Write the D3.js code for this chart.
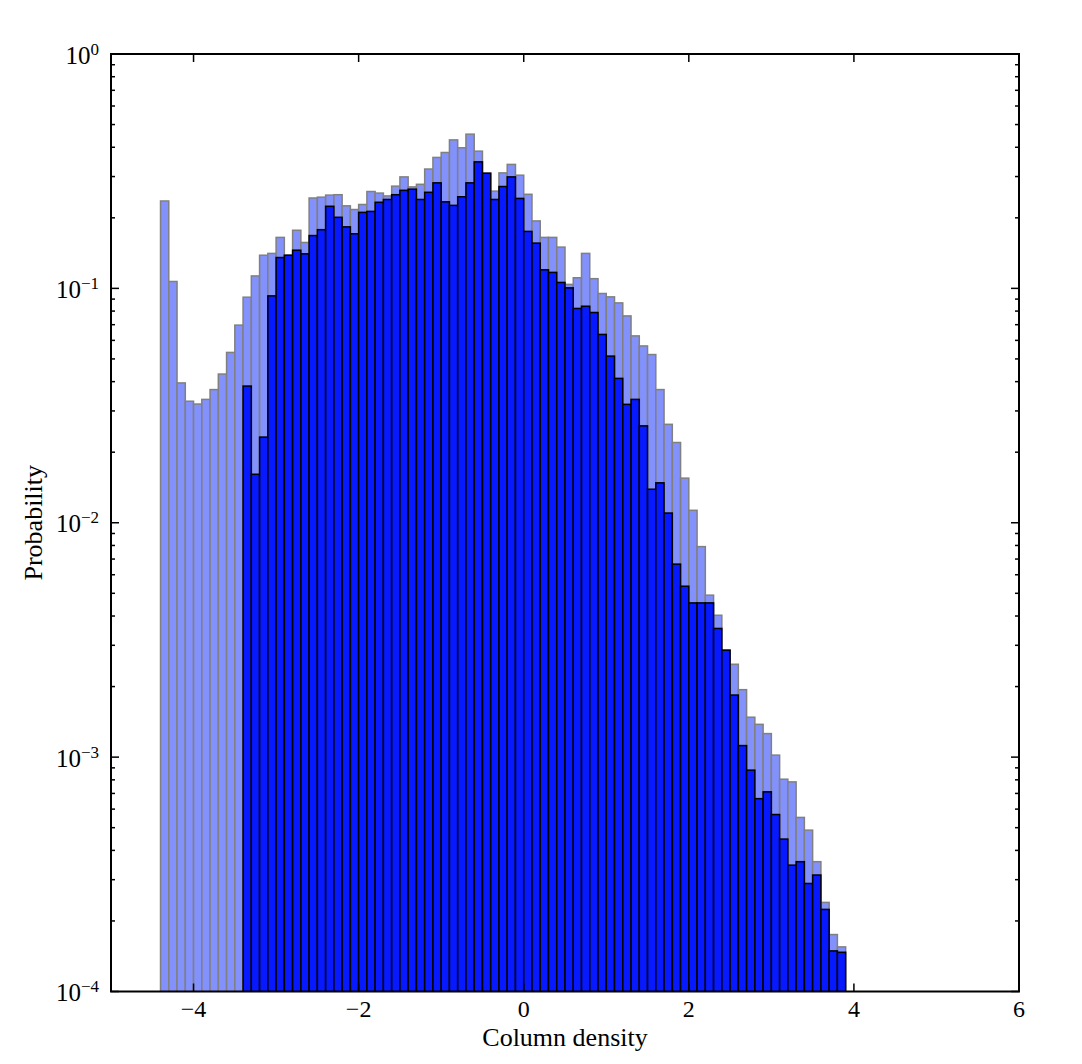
<!DOCTYPE html>
<html>
<head>
	<title>Column density histogram</title>
	<style type="text/css">
		body { margin: 0; background: #fff; }
		text { font-family: "Liberation Serif", "DejaVu Serif", serif; fill: #000; }
		.light { fill: #8291fb; stroke: #808080; stroke-width: 1.5; }
		.dark { fill: #0619ff; stroke: #000; stroke-width: 1.5; }
	</style>
</head>
<body>
	<div id="chart"></div>
	<script src="https://d3js.org/d3.v7.min.js"></script>
	<script type="text/javascript">
		// histogram bins (left edges), width 0.1
		var binLefts = [-4.4, -4.3, -4.2, -4.1, -4.0, -3.9, -3.8, -3.7, -3.6, -3.5,
			-3.4, -3.3, -3.2, -3.1, -3.0, -2.9, -2.8, -2.7, -2.6, -2.5,
			-2.4, -2.3, -2.2, -2.1, -2.0, -1.9, -1.8, -1.7, -1.6, -1.5,
			-1.4, -1.3, -1.2, -1.1, -1.0, -0.9, -0.8, -0.7, -0.6, -0.5,
			-0.4, -0.3, -0.2, -0.1, 0.0, 0.1, 0.2, 0.3, 0.4, 0.5,
			0.6, 0.7, 0.8, 0.9, 1.0, 1.1, 1.2, 1.3, 1.4, 1.5,
			1.6, 1.7, 1.8, 1.9, 2.0, 2.1, 2.2, 2.3, 2.4, 2.5,
			2.6, 2.7, 2.8, 2.9, 3.0, 3.1, 3.2, 3.3, 3.4, 3.5,
			3.6, 3.7, 3.8];
		var binWidth = 0.1;

		// pale series (whole field)
		var lightValues = [0.236, 0.107, 0.0395, 0.0330, 0.0321, 0.0336, 0.0370, 0.0431, 0.0533, 0.0697,
			0.0917, 0.113, 0.1385, 0.141, 0.165, 0.1385, 0.177, 0.157, 0.243, 0.245,
			0.250, 0.251, 0.225, 0.217, 0.228, 0.259, 0.255, 0.248, 0.273, 0.299,
			0.271, 0.278, 0.323, 0.362, 0.380, 0.430, 0.398, 0.455, 0.385, 0.310,
			0.260, 0.311, 0.338, 0.304, 0.252, 0.194, 0.165, 0.165, 0.150, 0.104,
			0.111, 0.141, 0.110, 0.0951, 0.0920, 0.0867, 0.0763, 0.0627, 0.0568, 0.0522,
			0.0370, 0.0263, 0.0220, 0.0155, 0.0113, 0.00791, 0.00491, 0.00403, 0.00286, 0.00249,
			0.00194, 0.00148, 0.00138, 0.00126, 0.00102, 0.000805, 0.000784, 0.000553, 0.000488, 0.000358,
			0.000240, 0.000175, 0.000155];

		// dark series (empty below -3.4)
		var darkValues = [null, null, null, null, null, null, null, null, null, null,
			0.0383, 0.0161, 0.0232, 0.0929, 0.1354, 0.1385, 0.1455, 0.1404, 0.168, 0.178,
			0.224, 0.201, 0.183, 0.171, 0.211, 0.213, 0.233, 0.2395, 0.251, 0.262,
			0.265, 0.2395, 0.257, 0.282, 0.234, 0.226, 0.246, 0.282, 0.3465, 0.310,
			0.2395, 0.272, 0.299, 0.242, 0.175, 0.156, 0.120, 0.117, 0.106, 0.1005,
			0.0821, 0.0839, 0.0789, 0.0636, 0.0514, 0.0413, 0.0320, 0.0336, 0.0259, 0.0139,
			0.0148, 0.0110, 0.00666, 0.00536, 0.00455, 0.00455, 0.00455, 0.00354, 0.00286, 0.00184,
			0.00112, 0.000880, 0.000665, 0.000711, 0.000569, 0.000447, 0.000346, 0.000358, 0.000289, 0.000314,
			0.000224, 0.000149, 0.000147];

		var xTicks = [-4, -2, 0, 2, 4, 6];
		var yExponents = [0, -1, -2, -3, -4];
		var xLabel = 'Column density',
			yLabel = 'Probability';

		var width = 1082,
			height = 1064,
			plotLeft = 111, plotRight = 1019,
			plotTop = 54, plotBottom = 991.5;

		var svg = d3.select('#chart')
					.append('svg')
					.attr('width', width)
					.attr('height', height),

			x = d3.scaleLinear().domain([-5, 6]).range([plotLeft, plotRight]),
			y = d3.scaleLog().domain([1e-4, 1]).range([plotBottom, plotTop]);

		svg.append('clipPath').attr('id', 'clip')
			.append('rect')
			.attr('x', plotLeft).attr('y', plotTop)
			.attr('width', plotRight - plotLeft).attr('height', plotBottom - plotTop);

		var plot = svg.append('g').attr('clip-path', 'url(#clip)');

		function drawBars(values, cls) {
			var bins = binLefts.map(function(b, i) { return {x0: b, v: values[i]}; })
				.filter(function(d) { return d.v != null; });
			plot.append('g').selectAll('rect')
				.data(bins)
				.enter()
				.append('rect')
				.attr('class', cls)
				.attr('x', function(d) { return x(d.x0); })
				.attr('width', function(d) { return x(d.x0 + binWidth) - x(d.x0); })
				.attr('y', function(d) { return y(d.v); })
				.attr('height', function(d) { return y(1e-4) - y(d.v) + 4; });
		}

		drawBars(lightValues, 'light');
		drawBars(darkValues, 'dark');

		// ticks, inside the frame on all sides
		var ticks = svg.append('g').attr('stroke', '#000').attr('stroke-width', 1.5);
		xTicks.forEach(function(t) {
			ticks.append('line').attr('x1', x(t)).attr('x2', x(t)).attr('y1', plotBottom).attr('y2', plotBottom - 8);
			ticks.append('line').attr('x1', x(t)).attr('x2', x(t)).attr('y1', plotTop).attr('y2', plotTop + 8);
		});
		yExponents.forEach(function(e) {
			var v = Math.pow(10, e);
			ticks.append('line').attr('x1', plotLeft).attr('x2', plotLeft + 8).attr('y1', y(v)).attr('y2', y(v));
			ticks.append('line').attr('x1', plotRight).attr('x2', plotRight - 8).attr('y1', y(v)).attr('y2', y(v));
			if (e > -4) {
				for (var m = 2; m <= 9; m++) {
					var mv = m * Math.pow(10, e - 1);
					ticks.append('line').attr('x1', plotLeft).attr('x2', plotLeft + 4).attr('y1', y(mv)).attr('y2', y(mv));
					ticks.append('line').attr('x1', plotRight).attr('x2', plotRight - 4).attr('y1', y(mv)).attr('y2', y(mv));
				}
			}
		});

		// frame
		svg.append('rect')
			.attr('x', plotLeft).attr('y', plotTop)
			.attr('width', plotRight - plotLeft).attr('height', plotBottom - plotTop)
			.attr('fill', 'none').attr('stroke', '#000').attr('stroke-width', 2);

		// tick labels
		svg.append('g').selectAll('text')
			.data(xTicks)
			.enter()
			.append('text')
			.attr('x', function(d) { return x(d); })
			.attr('y', plotBottom + 25)
			.attr('text-anchor', 'middle')
			.attr('font-size', 24)
			.text(function(d) { return d < 0 ? '\u2212' + Math.abs(d) : d; });

		var yl = svg.append('g').selectAll('text')
			.data(yExponents)
			.enter()
			.append('text')
			.attr('x', plotLeft - 12)
			.attr('y', function(d) { return y(Math.pow(10, d)) + 9.5; })
			.attr('text-anchor', 'end')
			.attr('font-size', 25);
		yl.append('tspan').text('10');
		yl.append('tspan')
			.attr('dy', -9)
			.attr('font-size', 17)
			.text(function(d) { return d < 0 ? '\u2212' + Math.abs(d) : d; });

		// axis labels
		svg.append('text')
			.attr('x', (plotLeft + plotRight) / 2)
			.attr('y', 1046)
			.attr('text-anchor', 'middle')
			.attr('font-size', 26)
			.text(xLabel);

		svg.append('text')
			.attr('transform', 'translate(42,' + ((plotTop + plotBottom) / 2) + ') rotate(-90)')
			.attr('text-anchor', 'middle')
			.attr('font-size', 26)
			.text(yLabel);
	</script>
</body>
</html>
